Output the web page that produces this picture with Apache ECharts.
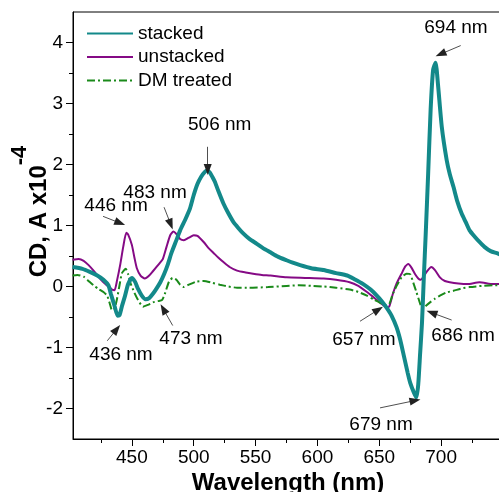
<!DOCTYPE html>
<html>
<head>
<meta charset="utf-8">
<script src="https://cdn.jsdelivr.net/npm/echarts@6/dist/echarts.min.js"></script>
<style>html,body{margin:0;padding:0;background:#fff}#c{width:499px;height:492px}</style>
</head>
<body>
<div id="c"></div>
<script>
// ---- data (wavelength nm, CD x1e-4) ----
const stacked = [[402,0.32],[410,0.29],[416,0.24],[422,0.18],[427,0.11],[431,0.02],[433,-0.12],[436,-0.32],[438.5,-0.48],[440,-0.47],[442,-0.32],[444.5,-0.15],[447,0.04],[450,0.14],[452.5,0.08],[455,-0.04],[458,-0.15],[461,-0.21],[464,-0.19],[467,-0.12],[470,-0.03],[473,0.07],[476,0.2],[479,0.36],[482,0.55],[486,0.76],[489,0.92],[493,1.09],[497,1.28],[500,1.5],[503,1.68],[506,1.8],[509,1.88],[511,1.9],[513,1.87],[515,1.8],[517,1.72],[520,1.56],[524,1.36],[528,1.2],[532,1.06],[536,0.96],[540,0.87],[545,0.78],[551,0.7],[556,0.63],[562,0.56],[568,0.49],[575,0.43],[580,0.39],[586,0.35],[595,0.3],[605,0.27],[615,0.22],[624,0.18],[630,0.12],[637,0.04],[643,-0.05],[648,-0.15],[652,-0.24],[656,-0.35],[660,-0.48],[664,-0.67],[667,-0.88],[670,-1.15],[673,-1.42],[675,-1.58],[678,-1.74],[680,-1.82],[681.5,-1.6],[683,-1.1],[684.5,-0.6],[686,0.15],[687.5,0.85],[689.5,1.85],[691.5,2.9],[693.5,3.55],[695.5,3.67],[697.5,3.3],[700.5,2.62],[704.5,2.07],[707,1.84],[710,1.63],[713,1.4],[716.5,1.2],[720,1.05],[723,0.92],[727,0.82],[731,0.73],[735,0.65],[740,0.58],[746,0.54],[750,0.5]];
const unstacked = [[402,0.44],[407,0.45],[411,0.42],[415,0.35],[419,0.26],[423,0.16],[427,0.07],[431,0.0],[434,-0.05],[436,-0.06],[438,0.1],[440.5,0.35],[443,0.65],[445.5,0.88],[447,0.85],[450,0.68],[452,0.48],[454,0.3],[457,0.18],[460.5,0.13],[464,0.18],[467,0.25],[472,0.37],[475,0.45],[478,0.65],[481,0.84],[483.5,0.9],[486,0.86],[489,0.78],[492,0.76],[496,0.8],[500,0.84],[503,0.83],[508,0.73],[512,0.63],[516,0.55],[520,0.47],[524,0.4],[529,0.32],[535,0.26],[542,0.23],[548,0.21],[555,0.19],[562,0.18],[575,0.15],[590,0.14],[605,0.13],[615,0.11],[626,0.07],[633,0.01],[640,-0.09],[645,-0.17],[650.5,-0.26],[656,-0.34],[658,-0.33],[661,-0.12],[664,0.05],[668,0.21],[671,0.33],[673.5,0.37],[676,0.31],[679,0.2],[681.5,0.13],[683.5,0.11],[686,0.17],[689,0.26],[692,0.32],[695,0.27],[699,0.15],[703,0.09],[707,0.07],[714,0.05],[721,0.04],[731,0.07],[742,0.04],[750,0.04]];
const dmTreated = [[402,0.18],[406,0.19],[411,0.16],[415,0.09],[419,0.02],[423,-0.04],[427,-0.09],[430,-0.15],[432,-0.27],[434,-0.39],[436,-0.36],[438,-0.2],[440,0.02],[442,0.22],[445,0.29],[447,0.2],[449,0.05],[452,-0.1],[455,-0.22],[459,-0.33],[463,-0.3],[467,-0.26],[471,-0.24],[474.5,-0.22],[477,-0.1],[480,0.08],[483,0.14],[486,0.11],[489,0.03],[492,-0.01],[496,0.03],[502,0.08],[508,0.09],[515,0.06],[521,0.03],[528,0.0],[535,-0.02],[545,-0.02],[560,-0.01],[575,0.01],[585,0.02],[595,0.01],[605,0.0],[615,-0.02],[626,-0.05],[633,-0.09],[640,-0.15],[646,-0.22],[651,-0.27],[656,-0.31],[658,-0.29],[661,-0.12],[664,0.01],[668,0.15],[672,0.21],[675,0.2],[678,0.03],[680,-0.09],[683,-0.28],[685,-0.37],[688,-0.31],[691,-0.26],[695,-0.2],[699,-0.15],[704,-0.1],[710,-0.07],[717,-0.03],[723,-0.01],[733,0.01],[742,0.02],[750,0.02]];

const seriesNames = ['stacked', 'unstacked', 'DM treated'];
const xMajorTicks = [450, 500, 550, 600, 650, 700];
const xMinorTicks = [425, 475, 525, 575, 625, 675, 725];
const yMajorTicks = [-2, -1, 0, 1, 2, 3, 4];
const yMinorTicks = [-1.5, -0.5, 0.5, 1.5, 2.5, 3.5];

// annotation labels [text, x, y] and arrows [x1, y1, x2(tip), y2(tip)] in data units
const annoText = [['694 nm',712,4.24],['506 nm',521,2.65],['483 nm',468.7,1.53],['446 nm',437.2,1.33],['436 nm',441.2,-1.12],['473 nm',497.8,-0.86],['657 nm',637.6,-0.88],['686 nm',717.7,-0.81],['679 nm',651.4,-2.27]];
const annoArrows = [[715.8,3.95,699.6,3.81],[511.3,2.29,511.3,1.92],[476,1.3,481.4,1.02],[426.7,1.15,440.4,1.04],[430.1,-0.89,437.7,-0.7],[483,-0.64,475.4,-0.37],[634.4,-0.57,649.2,-0.38],[708.5,-0.55,692.4,-0.43],[650.6,-1.99,678.9,-1.87]];

const FONT = 'Liberation Sans, Arial, sans-serif';
const colors = ['#13898a', '#850a85', '#1a8a1a'];

const chart = echarts.init(document.getElementById('c'), null, {renderer: 'canvas'});
chart.setOption({
  animation: false,
  backgroundColor: '#fff',
  textStyle: {fontFamily: FONT},
  grid: {left: 73, top: 12, width: 430, height: 427, outerBoundsMode: 'none', containLabel: false,
         show: true, borderColor: '#000', borderWidth: 1, backgroundColor: 'transparent'},
  legend: {
    data: seriesNames, orient: 'vertical', left: 81, top: 19, itemWidth: 46, itemHeight: 10, itemGap: 4.5,
    itemStyle: {opacity: 0, borderWidth: 0},
    textStyle: {fontSize: 19, color: '#000', fontFamily: FONT}
  },
  xAxis: [{
    type: 'value', min: 402.4, max: 750, position: 'bottom',
    name: 'Wavelength (nm)', nameLocation: 'middle', nameGap: 32, nameMoveOverlap: false,
    nameTextStyle: {fontSize: 24, fontWeight: 'bold', color: '#000', fontFamily: FONT},
    axisLine: {show: true, onZero: false, lineStyle: {color: '#000', width: 1}},
    axisTick: {show: true, length: 7, customValues: xMajorTicks, lineStyle: {color: '#000'}},
    axisLabel: {show: true, customValues: xMajorTicks, fontSize: 19, color: '#000', margin: 9, fontFamily: FONT},
    splitLine: {show: false}
  }, {
    type: 'value', min: 402.4, max: 750, position: 'bottom',
    axisLine: {show: false, onZero: false}, axisLabel: {show: false}, splitLine: {show: false},
    axisTick: {show: true, length: 4, customValues: xMinorTicks, lineStyle: {color: '#000'}}
  }],
  yAxis: [{
    type: 'value', min: -2.5, max: 4.5, position: 'left',
    name: '{a|CD, A x10}{b|-4}', nameLocation: 'middle', nameGap: 22, nameMoveOverlap: false,
    nameTextStyle: {
      color: '#000', padding: [0, 0, 0, 28],
      rich: {
        a: {fontSize: 24, fontWeight: 'bold', color: '#000', fontFamily: FONT, verticalAlign: 'bottom'},
        b: {fontSize: 22, fontWeight: 'bold', color: '#000', fontFamily: FONT, verticalAlign: 'bottom', padding: [0, 0, 20, 0]}
      }
    },
    axisLine: {show: true, onZero: false, lineStyle: {color: '#000', width: 1}},
    axisTick: {show: true, length: 7, customValues: yMajorTicks, lineStyle: {color: '#000'}},
    axisLabel: {show: true, customValues: yMajorTicks, fontSize: 19, color: '#000', margin: 10, fontFamily: FONT},
    splitLine: {show: false}
  }, {
    type: 'value', min: -2.5, max: 4.5, position: 'left',
    axisLine: {show: false, onZero: false}, axisLabel: {show: false}, splitLine: {show: false},
    axisTick: {show: true, length: 4, customValues: yMinorTicks, lineStyle: {color: '#000'}}
  }],
  series: [
    {name: seriesNames[1], type: 'line', data: unstacked, symbol: 'none', smooth: 0.2, z: 2,
     lineStyle: {color: colors[1], width: 2}, itemStyle: {color: colors[1]}},
    {name: seriesNames[2], type: 'line', data: dmTreated, symbol: 'none', smooth: 0.2, z: 3,
     lineStyle: {color: colors[2], width: 2, type: [8, 3, 2, 3]}, itemStyle: {color: colors[2]}},
    {name: seriesNames[0], type: 'line', data: stacked, symbol: 'none', smooth: 0.2, z: 4,
     lineStyle: {color: colors[0], width: 4}, itemStyle: {color: colors[0]}},
    {name: 'annotations', type: 'line', data: [], z: 10, silent: true,
     markLine: {
       silent: true, symbol: ['none', 'triangle'], symbolSize: [8, 11], animation: false,
       label: {show: false},
       lineStyle: {color: '#222', width: 0.8, type: 'solid'},
       emphasis: {disabled: true},
       data: annoArrows.map(a => [{coord: [a[0], a[1]]}, {coord: [a[2], a[3]]}])
     },
     markPoint: {
       silent: true, symbol: 'circle', symbolSize: 0, animation: false,
       label: {show: true, position: 'inside', formatter: '{b}', fontSize: 19, color: '#000', fontFamily: FONT},
       data: annoText.map(t => ({name: t[0], coord: [t[1], t[2]]}))
     }}
  ]
});
</script>
</body>
</html>
